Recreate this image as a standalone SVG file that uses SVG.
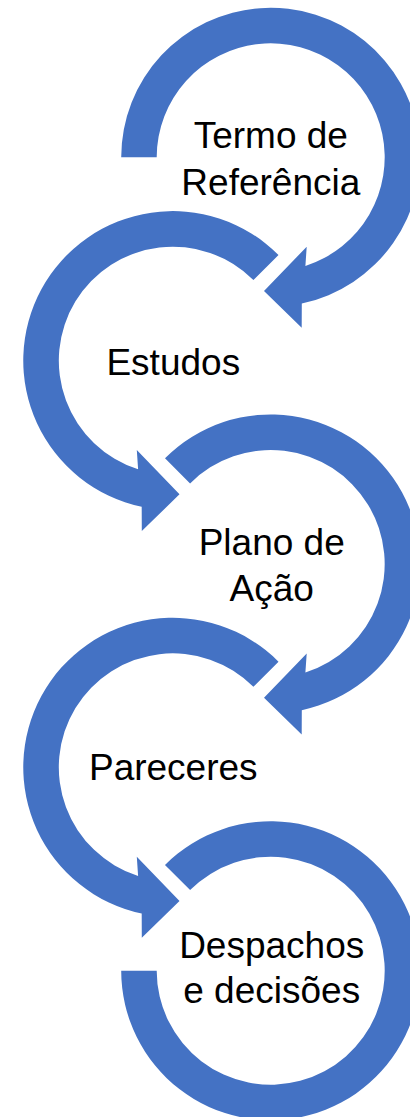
<svg xmlns="http://www.w3.org/2000/svg" width="410" height="1117" viewBox="0 0 410 1117">
<style>
.arc{fill:#4472C4;stroke:none}
.lbl{font-family:"Liberation Sans",Arial,sans-serif;font-size:37px;fill:#000;text-anchor:middle}
</style>
<defs>
<path id="arrowA" d="M -149.5 0 A 149.5 149.5 0 1 1 31.1 146.2 L 31.0 170.4 L -6.7 133.7 L 36.0 89.4 L 34.7 108.6 A 114 114 0 1 0 -114 0 Z"/>
<path id="arrowB" d="M -105.71 -105.71 A 149.5 149.5 0 1 1 31.1 146.2 L 31.0 170.4 L -6.7 133.7 L 36.0 89.4 L 34.7 108.6 A 114 114 0 1 0 -80.61 -80.61 Z"/>
<path id="arcEnd" d="M -105.71 -105.71 A 149.5 149.5 0 1 1 -149.5 0 L -114 0 A 114 114 0 1 0 -80.61 -80.61 Z"/>
</defs>
<rect width="410" height="1117" fill="#fff"/>
<g id="node1">
<use href="#arrowA" class="arc" transform="translate(270.7,157.3)"/>
<text class="lbl" x="270.8" y="148.3">Termo de</text>
<text class="lbl" x="270.8" y="195">Referência</text>
</g>
<g id="node2">
<use href="#arrowB" class="arc" transform="translate(172.8,360.65) scale(-1,1)"/>
<text class="lbl" x="173.3" y="375">Estudos</text>
</g>
<g id="node3">
<use href="#arrowB" class="arc" transform="translate(270.7,564)"/>
<text class="lbl" x="271.7" y="555">Plano de</text>
<text class="lbl" x="271.7" y="601">Ação</text>
</g>
<g id="node4">
<use href="#arrowB" class="arc" transform="translate(172.8,767.35) scale(-1,1)"/>
<text class="lbl" x="173.3" y="780">Pareceres</text>
</g>
<g id="node5">
<use href="#arcEnd" class="arc" transform="translate(270.7,970.7)"/>
<text class="lbl" x="271.7" y="958.3">Despachos</text>
<text class="lbl" x="271.7" y="1003.3">e decisões</text>
</g>
</svg>
